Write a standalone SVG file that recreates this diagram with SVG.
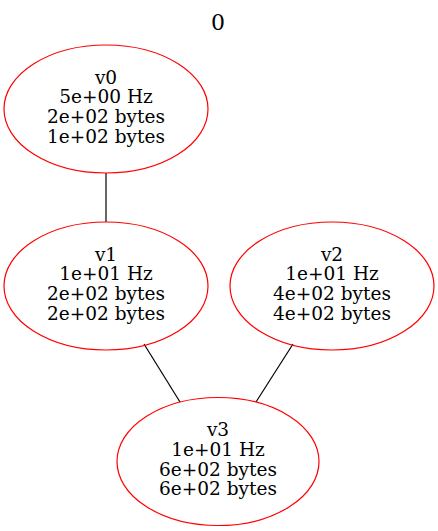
<svg xmlns="http://www.w3.org/2000/svg" width="438" height="531" viewBox="0 0 438 531">
<style>
.n{fill:none;stroke:#ff0000;stroke-width:1.2}
.t{font-family:"DejaVu Serif",serif;font-size:18.5px;text-anchor:middle;fill:#000}
.e{stroke:#000;stroke-width:1.2;fill:none}
</style>
<rect width="438" height="531" fill="#fff"/>
<text x="218" y="30" style="font-family:'DejaVu Serif',serif;font-size:22px;text-anchor:middle">0</text>
<g id="edges">
<line class="e" x1="106" y1="173" x2="106" y2="222"/>
<line class="e" x1="144" y1="344" x2="180" y2="402"/>
<line class="e" x1="293" y1="344" x2="256" y2="402"/>
</g>
<g id="v0">
<ellipse class="n" cx="106" cy="109" rx="102" ry="64"/>
<text class="t" x="106" y="83.5">v0</text>
<text class="t" x="106" y="103">5e+00 Hz</text>
<text class="t" x="106" y="123">2e+02 bytes</text>
<text class="t" x="106" y="142.5">1e+02 bytes</text>
</g>
<g id="v1">
<ellipse class="n" cx="106" cy="286" rx="102" ry="64"/>
<text class="t" x="106" y="260.5">v1</text>
<text class="t" x="106" y="280">1e+01 Hz</text>
<text class="t" x="106" y="300">2e+02 bytes</text>
<text class="t" x="106" y="319.5">2e+02 bytes</text>
</g>
<g id="v2">
<ellipse class="n" cx="332" cy="286" rx="102" ry="64"/>
<text class="t" x="332" y="260.5">v2</text>
<text class="t" x="332" y="280">1e+01 Hz</text>
<text class="t" x="332" y="300">4e+02 bytes</text>
<text class="t" x="332" y="319.5">4e+02 bytes</text>
</g>
<g id="v3">
<ellipse class="n" cx="218" cy="461.5" rx="101" ry="64"/>
<text class="t" x="218" y="436">v3</text>
<text class="t" x="218" y="455.5">1e+01 Hz</text>
<text class="t" x="218" y="475.5">6e+02 bytes</text>
<text class="t" x="218" y="495">6e+02 bytes</text>
</g>
</svg>
